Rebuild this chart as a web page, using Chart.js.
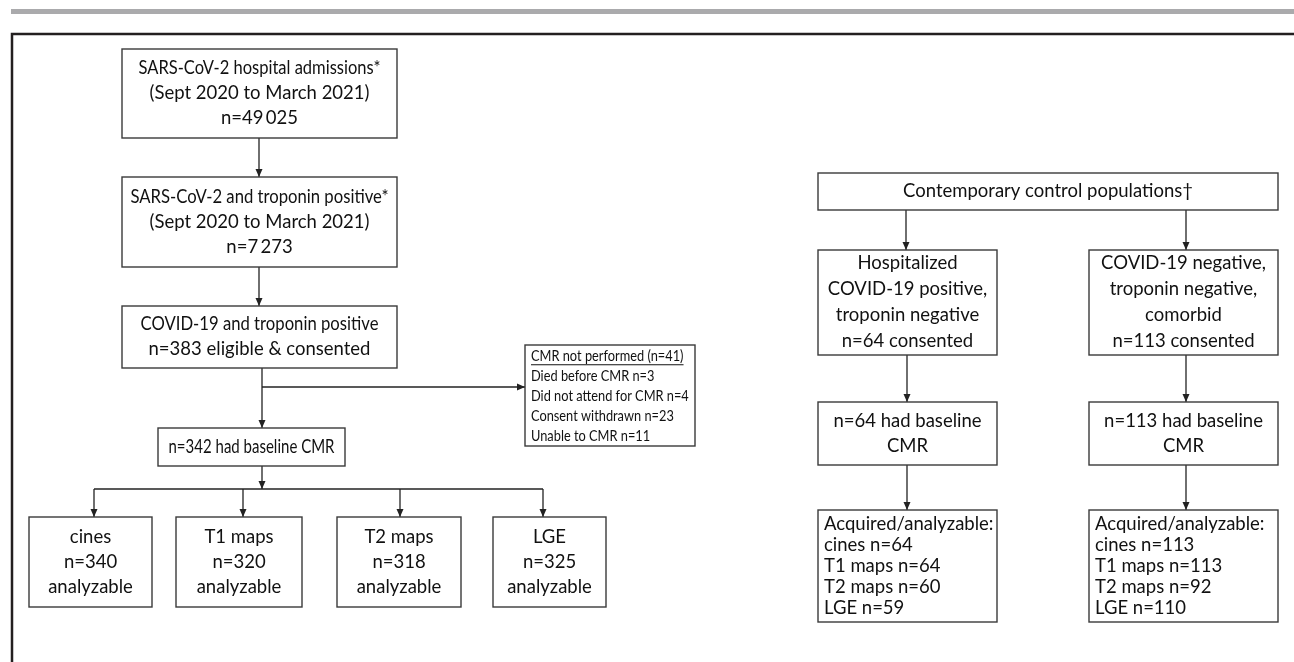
<!DOCTYPE html>
<html>
<head>
<meta charset="utf-8">
<script src="https://cdn.jsdelivr.net/npm/chart.js@4/dist/chart.umd.min.js"></script>
<style>
  html, body { margin: 0; padding: 0; background: #fff; }
  #wrap { width: 1294px; height: 662px; }
</style>
</head>
<body>
<div id="wrap"><canvas id="flow" width="1294" height="662"></canvas></div>
<script>
/* ------------------------------------------------------------
   DATA – counts
   ------------------------------------------------------------ */
const mainSteps = [
  ['SARS-CoV-2 hospital admissions*', '(Sept 2020 to March 2021)'],
  ['SARS-CoV-2 and troponin positive*', '(Sept 2020 to March 2021)'],
  ['COVID-19 and troponin positive'],
];
const mainCounts   = [49025, 7273, 383];
const baselineCMR  = 342;

const excludedTitle   = 'CMR not performed';
const excludedReasons = ['Died before CMR', 'Did not attend for CMR', 'Consent withdrawn', 'Unable to CMR'];
const excludedCounts  = [3, 4, 23, 11];

const sequences       = ['cines', 'T1 maps', 'T2 maps', 'LGE'];
const analyzableCases = [340, 320, 318, 325];

const controlTitle    = 'Contemporary control populations\u2020';
const controlGroups   = [
  ['Hospitalized', 'COVID-19 positive,', 'troponin negative'],
  ['COVID-19 negative,', 'troponin negative,', 'comorbid'],
];
const controlConsented = [64, 113];
const controlBaseline  = [64, 113];
const controlCines     = [64, 113];
const controlT1        = [64, 113];
const controlT2        = [60, 92];
const controlLGE       = [59, 110];

/* ------------------------------------------------------------
   HELPERS
   ------------------------------------------------------------ */
const fmt = n => String(n).replace(/\B(?=(\d{3})+(?!\d))/g, '\u2009');
const sum = a => a.reduce((s, v) => s + v, 0);

/* ------------------------------------------------------------
   LAYOUT (chart units == pixels, y grows downward)
   ------------------------------------------------------------ */
const FONT = '"Lato", "Open Sans", sans-serif';
const nodes = [];
function node(rect, lines, opts = {}) {
  nodes.push(Object.assign({ rect, lines, align: 'center', size: 18.5, lh: 25, sx: 1, fit: null }, opts));
}

// main cohort column
node([122, 49, 397, 138],  [...mainSteps[0], 'n=' + fmt(mainCounts[0])], { fit: 242 });
node([122, 177, 397, 267], [...mainSteps[1], 'n=' + fmt(mainCounts[1])], { fit: 258 });
node([122, 306, 397, 368], [...mainSteps[2], 'n=' + fmt(mainCounts[2]) + ' eligible & consented'], { fit: 238 });
node([158, 428, 345, 466], ['n=' + baselineCMR + ' had baseline CMR'], { fit: 166 });
node([525, 345, 695, 446],
  [excludedTitle + ' (n=' + sum(excludedCounts) + ')',
   ...excludedReasons.map((r, i) => r + ' n=' + excludedCounts[i])],
  { align: 'left', size: 16, lh: 20, sx: 0.8, underlineFirst: true });

const seqBoxes = [[29, 152], [176, 302], [337, 461], [493, 606]];
sequences.forEach((s, i) => {
  node([seqBoxes[i][0], 517, seqBoxes[i][1], 607], [s, 'n=' + analyzableCases[i], 'analyzable']);
});

// control populations
node([818, 173, 1278, 210], [controlTitle]);
const ctrlCols = [[818, 997], [1089, 1278]];
controlGroups.forEach((g, i) => {
  const [x0, x1] = ctrlCols[i];
  node([x0, 250, x1, 355], [...g, 'n=' + controlConsented[i] + ' consented'], { lh: 26 });
  node([x0, 402, x1, 465], ['n=' + controlBaseline[i] + ' had baseline', 'CMR']);
  node([x0, 510, x1, 622], [
    'Acquired/analyzable:',
    'cines n=' + controlCines[i],
    'T1 maps n=' + controlT1[i],
    'T2 maps n=' + controlT2[i],
    'LGE n=' + controlLGE[i],
  ], { align: 'left', lh: 21 });
});

// connectors: [x0, y0, x1, y1, arrowhead]
const links = [
  [259, 138, 259, 177, true],
  [259, 267, 259, 306, true],
  [262, 368, 262, 428, true],
  [262, 387, 525, 387, true],
  [262, 466, 262, 489, true],
  [94, 489, 543, 489, false],
  [94, 489, 94, 517, true],
  [243, 489, 243, 517, true],
  [400, 489, 400, 517, true],
  [543, 489, 543, 517, true],
  [906, 210, 906, 250, true],
  [1186, 210, 1186, 250, true],
  [907, 355, 907, 402, true],
  [1186, 355, 1186, 402, true],
  [907, 465, 907, 510, true],
  [1186, 465, 1186, 510, true],
];

/* ------------------------------------------------------------
   PLUGIN – draws boxes, arrows and frame through the scales
   ------------------------------------------------------------ */
const flowPlugin = {
  id: 'flow',
  afterDatasetsDraw(chart) {
    const { ctx, scales: { x, y } } = chart;
    const px = v => x.getPixelForValue(v);
    const py = v => y.getPixelForValue(v);
    ctx.save();

    // header bar + frame
    ctx.fillStyle = '#aaaaac';
    ctx.fillRect(px(11), py(9), px(1294) - px(11), py(14) - py(9));
    ctx.strokeStyle = '#231f20';
    ctx.lineWidth = 2.5;
    ctx.beginPath();
    ctx.moveTo(px(1294), py(34));
    ctx.lineTo(px(12), py(34));
    ctx.lineTo(px(12), py(662));
    ctx.stroke();

    // connectors
    ctx.strokeStyle = '#222';
    ctx.fillStyle = '#222';
    ctx.lineWidth = 1.3;
    links.forEach(([x0, y0, x1, y1, head]) => {
      const X0 = px(x0), Y0 = py(y0), X1 = px(x1), Y1 = py(y1);
      ctx.beginPath();
      ctx.moveTo(X0, Y0);
      ctx.lineTo(X1, Y1);
      ctx.stroke();
      if (head) {
        const a = Math.atan2(Y1 - Y0, X1 - X0);
        const L = 8, W = 3.5;
        ctx.beginPath();
        ctx.moveTo(X1, Y1);
        ctx.lineTo(X1 - L * Math.cos(a) + W * Math.sin(a), Y1 - L * Math.sin(a) - W * Math.cos(a));
        ctx.lineTo(X1 - L * Math.cos(a) - W * Math.sin(a), Y1 - L * Math.sin(a) + W * Math.cos(a));
        ctx.closePath();
        ctx.fill();
      }
    });

    // boxes
    nodes.forEach(n => {
      const X0 = px(n.rect[0]), Y0 = py(n.rect[1]), X1 = px(n.rect[2]), Y1 = py(n.rect[3]);
      ctx.fillStyle = '#fff';
      ctx.fillRect(X0, Y0, X1 - X0, Y1 - Y0);
      ctx.strokeStyle = '#3a3a3a';
      ctx.lineWidth = 1.4;
      ctx.strokeRect(X0, Y0, X1 - X0, Y1 - Y0);

      ctx.fillStyle = '#111';
      ctx.font = n.size + 'px ' + FONT;
      ctx.textBaseline = 'middle';
      ctx.textAlign = n.align;
      const cy = (Y0 + Y1) / 2;
      const tx = n.align === 'left' ? X0 + 6 : (X0 + X1) / 2;
      n.lines.forEach((t, i) => {
        const ly = cy + (i - (n.lines.length - 1) / 2) * n.lh;
        ctx.save();
        ctx.translate(tx, ly);
        ctx.scale(n.sx, 1);
        if (n.fit) ctx.fillText(t, 0, 0, n.fit);
        else ctx.fillText(t, 0, 0);
        if (i === 0 && n.underlineFirst) {
          const w = ctx.measureText(t).width;
          ctx.lineWidth = 1.1;
          ctx.strokeStyle = '#111';
          ctx.beginPath();
          ctx.moveTo(0, n.size * 0.58);
          ctx.lineTo(w, n.size * 0.58);
          ctx.stroke();
        }
        ctx.restore();
      });
    });
    ctx.restore();
  }
};

/* ------------------------------------------------------------
   CHART
   ------------------------------------------------------------ */
new Chart(document.getElementById('flow'), {
  type: 'scatter',
  data: { datasets: [{ data: [], pointRadius: 0 }] },
  options: {
    responsive: false,
    animation: false,
    devicePixelRatio: 1,
    layout: { padding: 0 },
    plugins: { legend: { display: false }, tooltip: { enabled: false } },
    scales: {
      x: { type: 'linear', min: 0, max: 1294, display: false },
      y: { type: 'linear', min: 0, max: 662, reverse: true, display: false },
    },
  },
  plugins: [flowPlugin],
});
</script>
</body>
</html>
